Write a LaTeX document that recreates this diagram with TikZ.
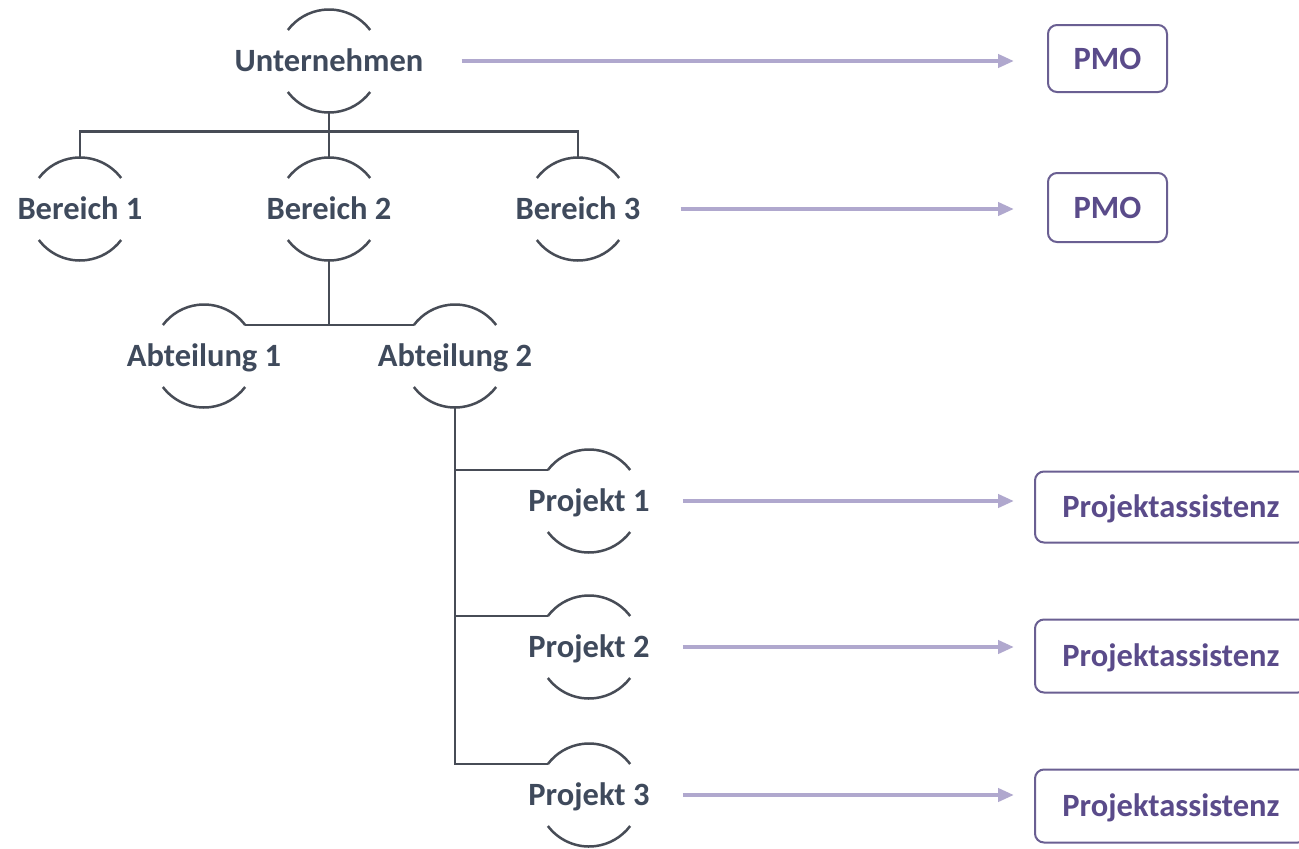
\documentclass[tikz,border=0pt]{standalone}
\usepackage{fontspec}
\setmainfont{Carlito}
\usetikzlibrary{arrows.meta}
\definecolor{ink}{HTML}{3F4A5C}
\definecolor{lineC}{HTML}{474C56}
\definecolor{arrC}{HTML}{B0A8CE}
\definecolor{boxC}{HTML}{6A5F92}
\definecolor{boxT}{HTML}{5A4B8A}
\newcommand\twoarcs[1]{%
  \draw[arcline] (#1.37) arc[start angle=37,end angle=143,radius=51.5pt];
  \draw[arcline] (#1.217) arc[start angle=217,end angle=323,radius=51.5pt];}
\begin{document}
\begin{tikzpicture}[x=1pt,y=1pt,
  unit/.style={circle,minimum size=103pt,inner sep=0pt,outer sep=0pt},
  lbl/.style={font=\fontsize{32.5}{36}\selectfont\bfseries,text=ink,inner sep=0pt,text height=21pt,text depth=0pt},
  conn/.style={draw=lineC,line width=2.5pt},
  arcline/.style={draw=lineC,line width=2.5pt},
  flow/.style={draw=arrC,line width=4pt,-{Triangle[length=16pt,width=13pt]}},
  box/.style={draw=boxC,line width=2pt,rounded corners=9pt,text=boxT,font=\fontsize{32.5}{36}\selectfont\bfseries,inner sep=0pt,text height=21pt,text depth=0pt}
]
\path[use as bounding box, clip] (0,0) rectangle (1299,-849);
\fill[white] (0,0) rectangle (1299,-849);

% org units
\node[unit,label={[lbl,name=ut]center:Unternehmen}] (u) at (329,-61) {};
\node[unit,label={[lbl,name=b1t]center:Bereich 1}] (b1) at (80,-209) {};
\node[unit,label={[lbl,name=b2t]center:Bereich 2}] (b2) at (329,-209) {};
\node[unit,label={[lbl,name=b3t]center:Bereich 3}] (b3) at (578,-209) {};
\node[unit,label={[lbl,name=a1t]center:Abteilung 1}] (a1) at (204,-356) {};
\node[unit,label={[lbl,name=a2t]center:Abteilung 2}] (a2) at (455,-356) {};
\node[unit,label={[lbl,name=p1t]center:Projekt 1}] (p1) at (589,-501) {};
\node[unit,label={[lbl,name=p2t]center:Projekt 2}] (p2) at (589,-647) {};
\node[unit,label={[lbl,name=p3t]center:Projekt 3}] (p3) at (589,-795) {};

\foreach \n in {u,b1,b2,b3,a1,a2,p1,p2,p3}{\twoarcs{\n}}

% boxes
\node[box,minimum width=119pt,minimum height=67pt] (pmo1) at (1107.5,-58.5) {PMO};
\node[box,minimum width=119pt,minimum height=69pt] (pmo2) at (1107.5,-207.5) {PMO};
\node[box,minimum width=272pt,minimum height=71pt] (pa1) at (1171,-507) {Projektassistenz};
\node[box,minimum width=272pt,minimum height=73pt] (pa2) at (1171,-656) {Projektassistenz};
\node[box,minimum width=272pt,minimum height=73pt] (pa3) at (1171,-806) {Projektassistenz};

% tree connectors
\draw[conn] (u.south) -- ++(0,-19) coordinate (j1);
\draw[conn] (b1.north) |- (j1) -| (b3.north);
\draw[conn] (j1) -- (b2.north);
\draw[conn] (b2.south) |- (a1.37);
\draw[conn] (b2.south) |- (a2.143);
\draw[conn] (a2.south) |- (p3.143);
\draw[conn] (a2.south |- p1.143) -- (p1.143);
\draw[conn] (a2.south |- p2.143) -- (p2.143);

% arrows
\draw[flow,shorten <=38pt,shorten >=33pt] (ut.east) -- (ut.east -| pmo1.west);
\draw[flow,shorten <=40pt,shorten >=33pt] (b3t.east) -- (b3t.east -| pmo2.west);
\draw[flow,shorten <=33pt,shorten >=20pt] (p1t.east) -- (p1t.east -| pa1.west);
\draw[flow,shorten <=33pt,shorten >=20pt] (p2t.east) -- (p2t.east -| pa2.west);
\draw[flow,shorten <=33pt,shorten >=20pt] (p3t.east) -- (p3t.east -| pa3.west);
\end{tikzpicture}
\end{document}
